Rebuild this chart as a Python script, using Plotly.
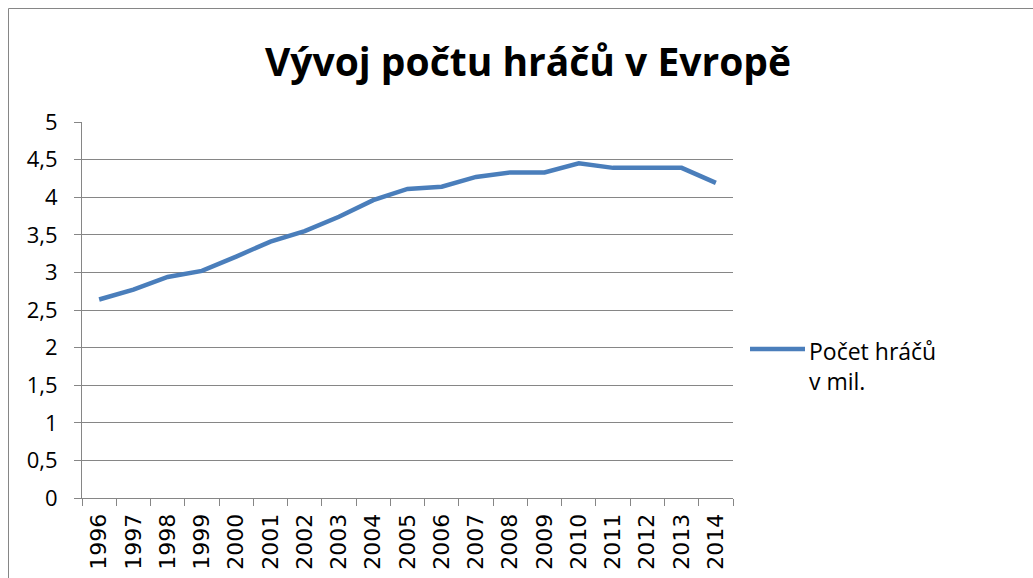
import plotly.graph_objects as go

years = [str(y) for y in range(1996, 2015)]
players = [2.64, 2.77, 2.94, 3.02, 3.21, 3.41, 3.55, 3.74, 3.96, 4.11,
           4.14, 4.27, 4.33, 4.33, 4.45, 4.39, 4.39, 4.39, 4.19]
series_name = "Počet hráčů<br>v mil."
title_text = "Vývoj počtu hráčů v Evropě"

W, H = 1033, 578
L, R, T, B = 82, 300, 122, 80
pw, ph = W - L - R, H - T - B
LINE_COLOR = "#4A7EBB"
AXIS_COLOR = "#868686"

def px_x(px):
    return (px - L) / pw

def px_y(py):
    return (H - B - py) / ph

fig = go.Figure()
fig.add_trace(go.Scatter(
    x=years, y=players, mode="lines", name=series_name, showlegend=False,
    line=dict(color=LINE_COLOR, width=4.5),
))

fig.update_layout(
    width=W, height=H,
    margin=dict(l=L, r=R, t=T, b=B, autoexpand=False),
    paper_bgcolor="white", plot_bgcolor="white",
    separators=", ",
    font=dict(family="Open Sans, Liberation Sans, sans-serif", color="black", size=23),
    title=dict(text="<b>" + title_text + "</b>", x=px_x(528), xref="paper",
               y=1 - 62 / H, yref="container", xanchor="center", yanchor="middle",
               font=dict(size=39, family="Open Sans, sans-serif", color="black")),
    xaxis=dict(type="category", range=[-0.5, len(years) - 0.5],
               tickson="boundaries", ticks="outside", ticklen=7, tickcolor=AXIS_COLOR,
               showgrid=False, showline=True, linecolor=AXIS_COLOR, linewidth=1,
               tickangle=-90, ticklabelstandoff=6, automargin=False,
               tickfont=dict(size=22, family="DejaVu Sans"),
               fixedrange=True),
    yaxis=dict(range=[0, 5], dtick=0.5, tick0=0, ticks="outside", ticklen=7,
               tickcolor=AXIS_COLOR, showgrid=True, gridcolor=AXIS_COLOR, gridwidth=1,
               showline=True, linecolor=AXIS_COLOR, linewidth=1, zeroline=False,
               ticklabelstandoff=12, automargin=False,
               tickfont=dict(size=22, family="Open Sans, sans-serif"),
               fixedrange=True),
    shapes=[
        dict(type="rect", xref="paper", yref="paper",
             x0=px_x(8.5), x1=px_x(1060), y0=px_y(600), y1=px_y(8.5),
             line=dict(color=AXIS_COLOR, width=1), fillcolor="rgba(0,0,0,0)",
             layer="below"),
        # legend key
        dict(type="line", xref="paper", yref="paper",
             x0=px_x(750), x1=px_x(805), y0=px_y(349), y1=px_y(349),
             line=dict(color=LINE_COLOR, width=4.5)),
    ],
    annotations=[
        dict(text=series_name, xref="paper", yref="paper",
             x=px_x(807), y=px_y(333), xanchor="left", yanchor="top",
             align="left", showarrow=False,
             font=dict(size=23, family="Open Sans, sans-serif", color="black")),
    ],
)

fig.write_html("out.html", config={"displayModeBar": False},
               post_script="document.body.style.margin='0';")
